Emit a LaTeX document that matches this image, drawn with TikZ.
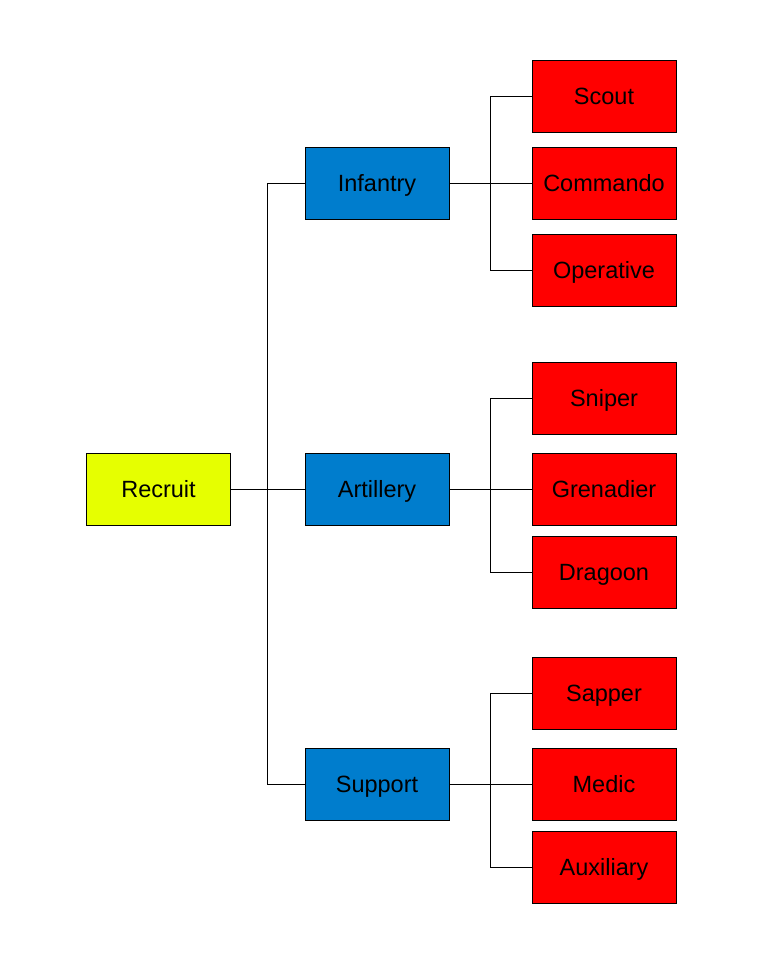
\documentclass[tikz,border=0pt]{standalone}
\usepackage{fontspec}
\setmainfont{Liberation Sans}
\usetikzlibrary{positioning}
\definecolor{rookie}{RGB}{230,255,0}
\definecolor{branch}{RGB}{0,125,205}
\definecolor{role}{RGB}{255,0,0}
\begin{document}
\begin{tikzpicture}[x=1pt,y=-1pt,line width=0.8pt,
  font=\fontsize{23.5}{28}\selectfont,
  r/.style={draw,minimum width=144pt,minimum height=72pt,inner sep=0pt,
    text height=21.5pt,text depth=4.7pt}]
\useasboundingbox (0,0) rectangle (768,960);
\node[r,fill=rookie] (rec) at (158.5,489.5) {Recruit};
\node[r,fill=branch] (inf) at (377,183.5) {Infantry};
\node[r,fill=branch] (art) at (377,489.5) {Artillery};
\node[r,fill=branch] (sup) at (377,784.5) {Support};
\node[r,fill=role] (sco) at (604,96.5) {Scout};
\node[r,fill=role] (com) at (604,183.5) {Commando};
\node[r,fill=role] (ope) at (604,270.5) {Operative};
\node[r,fill=role] (sni) at (604,398.5) {Sniper};
\node[r,fill=role] (gre) at (604,489.5) {Grenadier};
\node[r,fill=role] (dra) at (604,572.5) {Dragoon};
\node[r,fill=role] (sap) at (604,693.5) {Sapper};
\node[r,fill=role] (med) at (604,784.5) {Medic};
\node[r,fill=role] (aux) at (604,867.5) {Auxiliary};
\draw (rec.east) -- (art.west);
\draw (inf.west) -- ++(-37,0) |- (sup.west);
\draw (inf.east) -- (com.west);
\draw (sco.west) -- ++(-41,0) |- (ope.west);
\draw (art.east) -- (gre.west);
\draw (sni.west) -- ++(-41,0) |- (dra.west);
\draw (sup.east) -- (med.west);
\draw (sap.west) -- ++(-41,0) |- (aux.west);
\end{tikzpicture}
\end{document}
